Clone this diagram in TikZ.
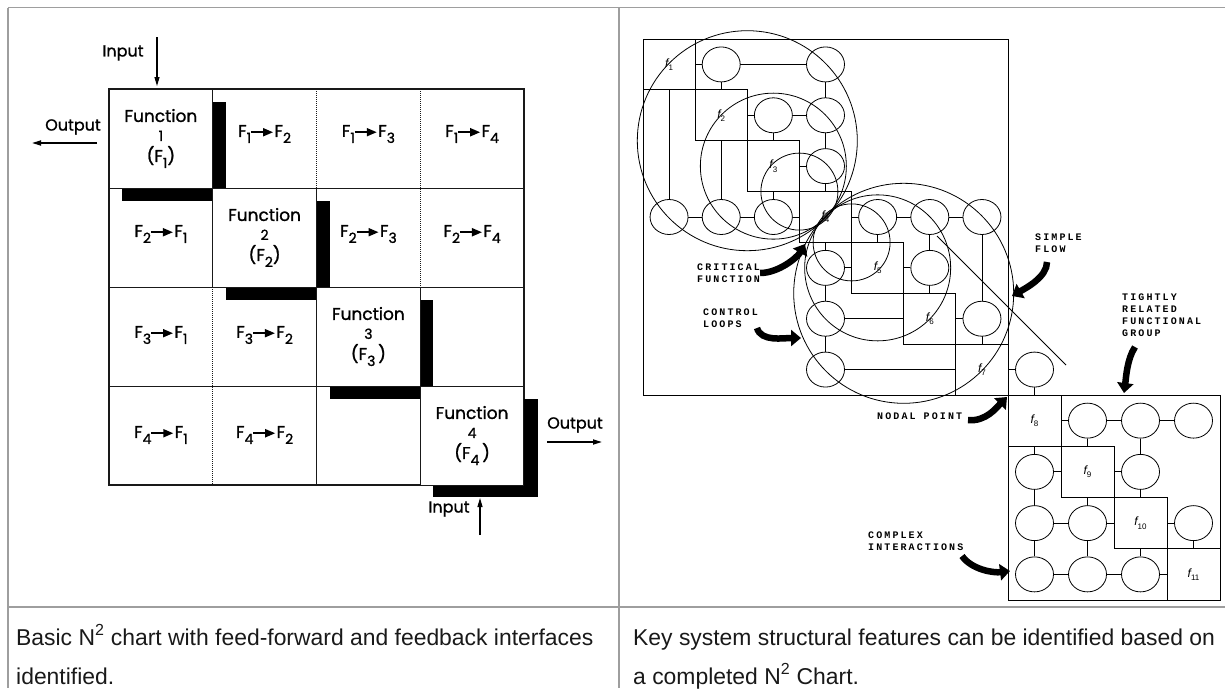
\documentclass[tikz,border=0pt]{standalone}
\usepackage{fontspec}
\setmainfont{Liberation Sans}
\newfontfamily\chartfont[FakeBold=1.2]{Poppins}
\newfontfamily\lblfont[LetterSpace=21]{Liberation Mono}
\usetikzlibrary{arrows.meta,shapes.geometric}
\definecolor{framegray}{RGB}{158,158,158}
\definecolor{captext}{RGB}{25,25,25}
\pgfdeclarelayer{bg}
\pgfsetlayers{bg,main}
\newcommand\ffarrow{\tikz[baseline=-0.5ex,x=1pt,y=1pt]\draw[line width=1.8pt,-{Triangle[length=10pt,width=8pt]}](0,0)--(22,0);}
\newcommand\fsub[1]{\raisebox{-0.65ex}{\fontsize{14}{14}\selectfont #1}}
\newcommand\fflow[2]{F\fsub{#1}\hspace{-1pt}\ffarrow\hspace{0.5pt}F\fsub{#2}}
\newcommand\flab[1]{{\itshape f}\raisebox{-0.5ex}{\fontsize{8}{8}\selectfont #1}}
\begin{document}
\begin{tikzpicture}[x=1pt,y=-1pt,
  frame/.style={draw=framegray,line width=1.6pt},
  mline/.style={line width=1pt,draw=black!90},
  mdot/.style={line width=1pt,draw=black!90,densely dotted},
  fcell/.style={draw=black!90,line width=1pt,fill=white,minimum width=103.75pt,minimum height=99pt,inner sep=0pt,align=center,font=\chartfont\fontsize{17}{21}\selectfont},
  icell/.style={inner sep=0pt,font=\chartfont\fontsize{17}{20}\selectfont},
  iolabel/.style={inner sep=0pt,font=\chartfont\fontsize{16}{18}\selectfont},
  ioarrow/.style={line width=1.1pt,-{Triangle[length=9pt,width=5pt]}},
  capt/.style={inner sep=0pt,anchor=base west,text=captext,font=\fontsize{22.9}{27}\selectfont},
  fbox/.style={draw,line width=0.8pt,fill=white,inner sep=0pt,minimum width=52.14pt,minimum height=50.86pt,font=\fontsize{12}{12}\selectfont},
  fboxb/.style={fbox,minimum width=53pt,minimum height=51.25pt},
  ifc/.style={ellipse,draw,line width=0.8pt,fill=white,inner sep=0pt,minimum width=38pt,minimum height=35pt},
  link/.style={line width=0.8pt},
  grp/.style={line width=0.8pt},
  note/.style={inner sep=0pt,align=left,font=\lblfont\bfseries\fontsize{10}{12}\selectfont},
  fat/.style={line width=6.5pt,-{Triangle[length=10pt,width=16pt]}}
]
\useasboundingbox (0,0) rectangle (1225,688);

% ---------- frame ----------
\draw[frame] (8,7.5) -- (1225,7.5);
\draw[frame] (8,7.5) -- (8,688);
\draw[frame] (619,7.5) -- (619,688);
\draw[frame] (8,607) -- (1225,607);

% ---------- left: basic N2 chart ----------
\draw[mline,line width=1.5pt] (109,89) rectangle (524,485);
\draw[mline] (212.75,89) -- (212.75,287);
\draw[mdot] (212.75,287) -- (212.75,485);
\draw[mdot] (316.5,89) -- (316.5,188);
\draw[mline] (316.5,188) -- (316.5,485);
\draw[mdot] (420.25,89) -- (420.25,287);
\draw[mline] (420.25,287) -- (420.25,485);
\draw[mline] (109,188) -- (524,188);
\draw[mline] (109,287) -- (524,287);
\draw[mline] (109,386) -- (524,386);

% shadows of the diagonal cells
\fill (122,102) rectangle (226,201);
\fill (225.75,201) rectangle (329.5,300);
\fill (329.5,300) rectangle (433.25,399);
\fill (433.25,399) rectangle (538,497);

\node[fcell] (fn1) at (160.9,138.5) {Function\\[-2pt]{\fontsize{14}{14}\selectfont 1}\\(F\fsub{1})};
\node[fcell] (fn2) at (264.6,237.5) {Function\\[-2pt]{\fontsize{14}{14}\selectfont 2}\\(F\fsub{2})};
\node[fcell] (fn3) at (368.4,336.5) {Function\\[-2pt]{\fontsize{14}{14}\selectfont 3}\\(F\fsub{3}\,)};
\node[fcell] (fn4) at (472.1,435.5) {Function\\[-2pt]{\fontsize{14}{14}\selectfont 4}\\(F\fsub{4}\,)};

\node[icell] (r1c2) at (264.6,134) {\fflow{1}{2}};
\node[icell] (r1c3) at (368.4,134) {\fflow{1}{3}};
\node[icell] (r1c4) at (472.1,134) {\fflow{1}{4}};
\node[icell] (r2c1) at (160.9,234) {\fflow{2}{1}};
\node[icell] (r2c3) at (368.4,234) {\fflow{2}{3}};
\node[icell] (r2c4) at (472.1,234) {\fflow{2}{4}};
\node[icell] (r3c1) at (160.9,335) {\fflow{3}{1}};
\node[icell] (r3c2) at (264.6,335) {\fflow{3}{2}};
\node[icell] (r4c1) at (160.9,435) {\fflow{4}{1}};
\node[icell] (r4c2) at (264.6,435) {\fflow{4}{2}};

% inputs / outputs
\node[iolabel] (intop) at (123,53) {Input};
\coordinate (intopA) at (157,37);
\coordinate (intopB) at (157,86);
\draw[ioarrow] (intopA) -- (intopB);
\node[iolabel] (outleft) at (73,127) {Output};
\coordinate (outlA) at (97,143);
\coordinate (outlB) at (32,143);
\draw[ioarrow,line width=1.6pt] (outlA) -- (outlB);
\node[iolabel] (outright) at (575,425) {Output};
\coordinate (outrA) at (547,442);
\coordinate (outrB) at (602,442);
\draw[ioarrow,line width=1.6pt] (outrA) -- (outrB);
\node[iolabel] (inbot) at (449,509) {Input};
\coordinate (inbA) at (480,535);
\coordinate (inbB) at (480,498);
\draw[ioarrow] (inbA) -- (inbB);

% ---------- right: structural N2 chart ----------
\foreach \i/\y in {1/64.43,2/115.29,3/166.14,4/217,5/267.86,6/318.71,7/369.57,8/420.63,9/471.88,10/523.13,11/574.38}{
  \foreach \j/\x in {1/669.05,2/721.2,3/773.35,4/825.5,5/877.65,6/929.8,7/981.95,8/1034.5,9/1087.5,10/1140.5,11/1193.5}{
    \coordinate (g-\i-\j) at (\x,\y);
  }
}
\draw[link] (643,39) rectangle (1008,395);
\draw[link] (1008,395) rectangle (1220,600);

\foreach \k in {1,...,7}{
  \node[fbox] (f\k) at (g-\k-\k) {\flab{\k}};
}
\foreach \k in {8,...,11}{
  \node[fboxb] (f\k) at (g-\k-\k) {\flab{\k}};
}
\foreach \i/\j in {1/2,1/4,2/3,2/4,3/4,4/1,4/2,4/3,4/5,4/6,4/7,5/4,5/6,6/4,6/7,7/4,7/8,8/9,8/10,8/11,9/8,9/10,10/8,10/9,10/11,11/8,11/9,11/10}{
  \node[ifc] (c-\i-\j) at (g-\i-\j) {};
}

\begin{pgfonlayer}{bg}
  % rows
  \draw[link] (f1) -- (c-1-4);
  \draw[link] (f2) -- (c-2-4);
  \draw[link] (f3) -- (c-3-4);
  \draw[link] (c-4-1) -- (c-4-7);
  \draw[link] (c-5-4) -- (c-5-6);
  \draw[link] (c-6-4) -- (c-6-7);
  \draw[link] (c-7-4) -- (c-7-8);
  \draw[link] (f8) -- (c-8-11);
  \draw[link] (c-9-8) -- (c-9-10);
  \draw[link] (c-10-8) -- (c-10-11);
  \draw[link] (c-11-8) -- (f11);
  % columns
  \draw[link] (f1) -- (c-4-1);
  \draw[link] (c-1-2) -- (c-4-2);
  \draw[link] (c-2-3) -- (c-4-3);
  \draw[link] (c-1-4) -- (c-7-4);
  \draw[link] (c-4-5) -- (f5);
  \draw[link] (c-4-6) -- (f6);
  \draw[link] (c-4-7) -- (f7);
  \draw[link] (c-7-8) -- (c-11-8);
  \draw[link] (c-8-9) -- (c-11-9);
  \draw[link] (c-8-10) -- (c-11-10);
  \draw[link] (c-10-11) -- (f11);
\end{pgfonlayer}

% group circles
\draw[grp] (747.3,140.7) circle[radius=110pt];
\draw[grp] (773.35,166.14) circle[radius=73pt];
\draw[grp] (799.4,191.6) circle[radius=38.5pt];
\draw[grp] (903.7,293.3) circle[radius=110pt];
\draw[grp] (877.65,267.86) circle[radius=73pt];
\draw[grp] (851.6,242.4) circle[radius=38.5pt];

% simple flow line
\coordinate (sf1) at (937,236);
\coordinate (sf2) at (1066,365);
\draw[link] (sf1) -- (sf2);

% annotations
\node[note,anchor=west] (crit) at (697,273) {CRITICAL\\FUNCTION};
\coordinate (critp) at (805,244);
\draw[fat] (crit.east) .. controls +(18,0) and +(-8,14) .. (critp);

\node[note,anchor=west] (ctrl) at (703,318) {CONTROL\\LOOPS};
\coordinate (ctrla) at (757,328);
\coordinate (ctrlp) at (801,338);
\draw[fat] (ctrla) .. controls +(4,14) and +(-18,0) .. (ctrlp);

\node[note,anchor=west] (simple) at (1035,243) {SIMPLE\\FLOW};
\coordinate (sfa) at (1047,262);
\coordinate (sfp) at (1012,296);
\draw[fat] (sfa) .. controls +(0,15) and +(14,-8) .. (sfp);

\node[note,anchor=north west] (tight) at (1122,294) {TIGHTLY\\RELATED\\FUNCTIONAL\\GROUP};
\coordinate (tfa) at (1135,347);
\coordinate (tfp) at (1124,393);
\draw[fat] (tfa) .. controls +(-8,12) and +(2,-15) .. (tfp);

\node[note,anchor=west] (nodal) at (877,416) {NODAL POINT};
\coordinate (nfa) at (968,420);
\coordinate (nfp) at (1007,397);
\draw[fat] (nfa) .. controls +(18,2) and +(-10,10) .. (nfp);

\node[note,anchor=west] (cplx) at (868,541) {COMPLEX\\INTERACTIONS};
\coordinate (cfa) at (962,556);
\coordinate (cfp) at (1010,571);
\draw[fat] (cfa) .. controls +(10,14) and +(-16,2) .. (cfp);

% ---------- captions ----------
\node[capt] (capL1) at (16,645) {Basic N\textsuperscript{2} chart with feed-forward and feedback interfaces};
\node[capt] (capL2) at (16,684) {identified.};
\node[capt] (capR1) at (633,645) {Key system structural features can be identified based on};
\node[capt] (capR2) at (633,684) {a completed N\textsuperscript{2} Chart.};
\end{tikzpicture}
\end{document}
